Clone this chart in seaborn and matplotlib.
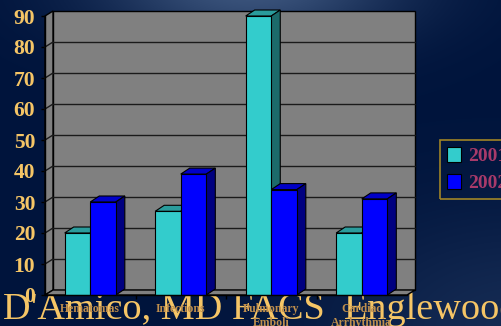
import numpy as np
import pandas as pd
import seaborn as sns
import matplotlib.pyplot as plt
from matplotlib.patches import Polygon

# data
categories = ['Hematomas', 'Infections', 'Pulmonary\nEmboli', 'Cardiac\nArrhythmia']
years = ['2001', '2002']
vals_2001 = [20, 27, 90, 20]
vals_2002 = [30, 39, 34, 31]
yticks = list(range(0, 100, 10))

df = pd.DataFrame({
    'category': categories * 2,
    'year': [years[0]] * 4 + [years[1]] * 4,
    'value': vals_2001 + vals_2002,
})

front = {'2001': '#33cccc', '2002': '#0000ff'}
top = {'2001': '#2a9c9c', '2002': '#0000c8'}
side = {'2001': '#1c6a6a', '2002': '#000080'}
gold = '#f5c566'
serif = 'Liberation Serif'

sns.set_style('white')
plt.rcParams['font.family'] = [serif, 'DejaVu Serif']

fig = plt.figure(figsize=(5.01, 3.26), dpi=100)

# dark blue slide background with a soft glow at the top
bg = fig.add_axes([0, 0, 1, 1])
bg.axis('off')
yy, xx = np.mgrid[0:326, 0:501]
glow = np.exp(-(((xx - 250) / 150.0) ** 2 + ((yy + 15) / 60.0) ** 2))
glow2 = 0.35 * np.exp(-(((xx - 520) / 200.0) ** 2 + ((yy - 330) / 120.0) ** 2))
base = np.array([0, 20, 60]) / 255.0
light = np.array([60, 85, 125]) / 255.0
img = base + (glow + glow2)[..., None] * (light - base)
bg.imshow(np.clip(img, 0, 1), aspect='auto', extent=[0, 1, 0, 1])
bg.set_xlim(0, 1)
bg.set_ylim(0, 1)

ax = fig.add_axes([45 / 501, 31 / 326, 362 / 501, 279 / 326])
ax.patch.set_visible(False)

sns.barplot(data=df, x='category', y='value', hue='year', palette=front, saturation=1,
            width=0.565, gap=0, edgecolor='black', linewidth=0.8, ax=ax)
ax.set_xlim(-0.5, 3.5)
ax.set_ylim(0, 90)
bars = list(ax.patches)[:len(df)]


def off(x, y, dx, dy):
    px, py = ax.transData.transform((x, y))
    return tuple(ax.transData.inverted().transform((px + dx, py + dy)))


# walls and floor
WX, WY = 8, 5
wall_col = '#808080'
ax.add_patch(Polygon([off(-0.5, 0, WX, WY), off(3.5, 0, WX, WY), off(3.5, 90, WX, WY),
                      off(-0.5, 90, WX, WY)], closed=True, fc=wall_col, ec='black',
                     lw=1, zorder=0.5, clip_on=False))
ax.add_patch(Polygon([(-0.5, 0), (-0.5, 90), off(-0.5, 90, WX, WY), off(-0.5, 0, WX, WY)],
                     closed=True, fc=wall_col, ec='black', lw=1, zorder=0.6, clip_on=False))
ax.add_patch(Polygon([(-0.5, 0), (3.5, 0), off(3.5, 0, WX, WY), off(-0.5, 0, WX, WY)],
                     closed=True, fc=wall_col, ec='black', lw=1, zorder=0.6, clip_on=False))
for y in yticks[1:-1]:
    a = off(-0.5, y, WX, WY)
    b = off(3.5, y, WX, WY)
    ax.plot([a[0], b[0]], [a[1], b[1]], color='#1a1a1a', lw=1, zorder=0.7, clip_on=False)
    ax.plot([-0.5, a[0]], [y, a[1]], color='#1a1a1a', lw=1, zorder=0.7, clip_on=False)

# 3d tops and sides of the bars
BX, BY = 9, 6
for i, p in enumerate(bars):
    yr = years[i // len(categories)]
    x0, w, h = p.get_x(), p.get_width(), p.get_height()
    ax.add_patch(Polygon([(x0, h), (x0 + w, h), off(x0 + w, h, BX, BY), off(x0, h, BX, BY)],
                         closed=True, fc=top[yr], ec='black', lw=0.8, zorder=2.5, clip_on=False))
    ax.add_patch(Polygon([(x0 + w, 0), (x0 + w, h), off(x0 + w, h, BX, BY), off(x0 + w, 0, BX, BY)],
                         closed=True, fc=side[yr], ec='black', lw=0.8, zorder=2.5, clip_on=False))
    p.set_zorder(3)

for s in ['top', 'right']:
    ax.spines[s].set_visible(False)
for s in ['left', 'bottom']:
    ax.spines[s].set_color('black')
    ax.spines[s].set_linewidth(1)
    ax.spines[s].set_zorder(3.5)

ax.set_yticks(yticks)
ax.set_yticklabels([str(t) for t in yticks], fontsize=15.5, fontweight='bold', color=gold)
ax.tick_params(axis='y', length=3, width=1, color='black', pad=4, left=True)
ax.set_xticks(range(len(categories)))
ax.set_xticklabels(categories, fontsize=8.5, fontweight='bold', color='#c08f4c',
                   linespacing=1.15)
ax.set_xticks([0.5, 1.5, 2.5], minor=True)
ax.tick_params(axis='x', which='major', length=0, pad=6)
ax.tick_params(axis='x', which='minor', length=3, width=1, color='black', bottom=True)
ax.set_xlabel('')
ax.set_ylabel('')

# legend
handles, labels = ax.get_legend_handles_labels()
if ax.get_legend() is not None:
    ax.get_legend().remove()
leg = fig.legend(handles, labels, loc='upper left', bbox_to_anchor=(440 / 501, 1 - 140 / 326),
                 borderaxespad=0, frameon=True, fancybox=False, handlelength=0.75,
                 handleheight=0.8, handletextpad=0.35, labelspacing=0.45, borderpad=0.35,
                 prop={'family': serif, 'weight': 'bold', 'size': 14}, labelcolor='#a83a6a')
leg.get_frame().set_facecolor('none')
leg.get_frame().set_edgecolor('#c8a020')
leg.get_frame().set_linewidth(1.2)

# footer text from the slide, drawn under the axis labels
fig.text(3 / 501, 7 / 326, "D'Amico, MD FACS  Englewood", fontsize=27.5, color=gold,
         family=serif, va='baseline', ha='left', zorder=4)
ax.set_zorder(5)

fig.savefig('out.png', dpi=100)
